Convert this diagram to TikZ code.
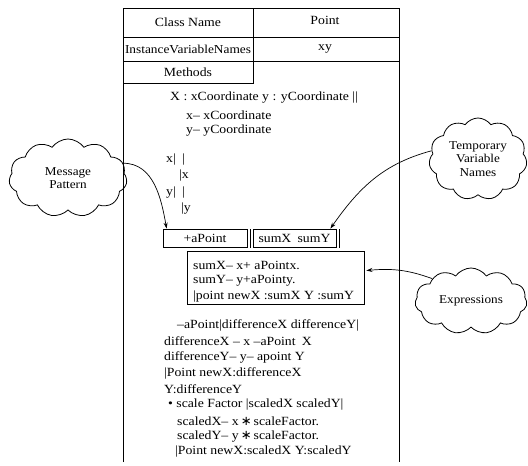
\documentclass[tikz,border=0pt]{standalone}
\usepackage{fontspec}
\setmainfont{Liberation Serif}
\newfontfamily\codefont{Liberation Serif}[FakeStretch=1.1]
\newfontfamily\symfont{DejaVu Sans}
\usetikzlibrary{shapes.symbols,arrows.meta}
\newcommand{\bigast}{{\symfont\fontsize{13}{14}\selectfont ∗}}
\tikzset{
  frame/.style={line width=0.9pt},
  txt/.style={anchor=west,inner sep=0pt,font=\codefont\fontsize{12.5}{14}\selectfont},
  cell/.style={inner sep=0pt,font=\codefont\fontsize{12.5}{14}\selectfont},
  partbox/.style={draw,line width=0.8pt,inner sep=0pt,font=\codefont\fontsize{12.5}{14}\selectfont},
  bubble/.style={cloud,draw,line width=0.8pt,cloud puffs=11,cloud puff arc=110,
    cloud ignores aspect,inner sep=0pt,align=center,
    font=\codefont\fontsize{12}{13.5}\selectfont},
  pointer/.style={line width=0.7pt,-{Stealth[length=6pt,width=4pt]}}
}
\begin{document}
\begin{tikzpicture}[x=1pt,y=-1pt]
\useasboundingbox (0,0) rectangle (528,466);

% class frame and header table
\draw[frame] (123,462) -- (123,8) -- (399,8) -- (399,462);
\draw[frame] (123,37) -- (399,37);
\draw[frame] (123,61) -- (399,61);
\draw[frame] (253,8) -- (253,83) -- (123,83);

\node[cell] (hcn) at (188,22) {Class Name};
\node[cell] (hpt) at (325,20) {Point};
\node[cell] (hiv) at (188,49) {\resizebox{126pt}{!}{InstanceVariableNames}};
\node[cell] (hxy) at (325,49) {xy};
\node[cell] (hme) at (188,72) {Methods};

% method source
\node[txt] (t1) at (170,98) {X : xCoordinate y : yCoordinate ||};
\node[txt] (t2) at (186,115) {x– xCoordinate};
\node[txt] (t3) at (186,131) {y– yCoordinate};
\node[txt] (t4) at (166,160) {x|\enspace|};
\node[txt] (t5) at (179,176) {|x};
\node[txt] (t6) at (166,193) {y|\enspace|};
\node[txt] (t7) at (181,209) {|y};

% message pattern and temporaries
\node[partbox,minimum width=84pt,minimum height=18pt] (msg) at (205,238) {+aPoint};
\draw[line width=0.8pt] (250,229) -- (250,248);
\node[partbox,minimum width=83pt,minimum height=18pt] (tmp) at (294.5,238) {sumX\enspace sumY};
\draw[line width=0.8pt] (339,229) -- (339,248);

% expressions
\node[partbox,minimum width=177pt,minimum height=53pt] (expr) at (275.5,277.5) {};
\node[txt] (e1) at (193,265) {sumX– x+ aPointx.};
\node[txt] (e2) at (193,281) {sumY– y+aPointy.};
\node[txt] (e3) at (193,297) {|point newX :sumX Y :sumY};

% further methods
\node[txt] (t8) at (177,325) {–aPoint|differenceX differenceY|};
\node[txt] (t9) at (164,341) {differenceX – x –aPoint\enspace X};
\node[txt] (t10) at (164,357) {differenceY– y– apoint Y};
\node[txt] (t11) at (164,373) {|Point newX:differenceX};
\node[txt] (t12) at (164,389) {Y:differenceY};
\node[txt] (t13) at (168,405) {• scale Factor |scaledX scaledY|};
\node[txt] (t14) at (177,421) {scaledX– x\,\bigast\,scaleFactor.};
\node[txt] (t15) at (177,437) {scaledY– y\,\bigast\,scaleFactor.};
\node[txt] (t16) at (175,452) {|Point newX:scaledX Y:scaledY};

% annotation clouds
\node[bubble,minimum width=118pt,minimum height=78pt] (mp) at (68,178) {Message\\Pattern};
\node[bubble,minimum width=98pt,minimum height=82pt] (tv) at (478,159) {Temporary\\Variable\\Names};
\node[bubble,minimum width=112pt,minimum height=66pt] (ex) at (471,301) {Expressions};

\draw[pointer] (mp.15) to[out=0,in=100] ([xshift=4pt]msg.north west);
\draw[pointer] (tv.170) to[out=195,in=55] ([xshift=-6pt]tmp.north east);
\draw[pointer] (ex.150) to[out=160,in=5] ([xshift=2pt,yshift=7pt]expr.east);
\end{tikzpicture}
\end{document}
